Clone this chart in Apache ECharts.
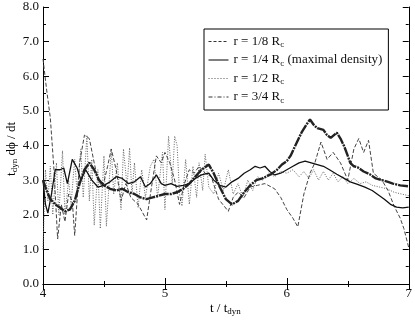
<!DOCTYPE html>
<html>
<head>
<meta charset="utf-8">
<script src="https://cdn.jsdelivr.net/npm/echarts@6/dist/echarts.min.js"></script>
<style>
  html, body { margin: 0; padding: 0; background: #fff; }
  #chart { width: 415px; height: 320px; }
</style>
</head>
<body>
<div id="chart"></div>
<script>
  // r = 1/8 Rc (dashed)
  const tDashed = [4.00, 4.03, 4.06, 4.09, 4.12, 4.15, 4.18, 4.21, 4.24, 4.26, 4.30, 4.34, 4.38, 4.42, 4.45, 4.49, 4.53, 4.56, 4.60, 4.64, 4.68, 4.72, 4.78, 4.85, 4.89, 4.93, 4.97, 5.00, 5.04, 5.08, 5.12, 5.16, 5.20, 5.24, 5.28, 5.33, 5.38, 5.44, 5.52, 5.56, 5.60, 5.65, 5.70, 5.76, 5.82, 5.90, 5.95, 6.00, 6.05, 6.09, 6.14, 6.19, 6.23, 6.28, 6.33, 6.38, 6.44, 6.50, 6.55, 6.59, 6.63, 6.67, 6.71, 6.78, 6.83, 6.88, 6.93, 6.96, 7.00]
  const vDashed = [6.5, 5.6, 4.8, 3.3, 1.3, 2.3, 1.8, 2.6, 2.4, 1.4, 3.5, 4.3, 4.2, 3.5, 3.0, 2.8, 3.4, 3.9, 3.3, 2.4, 2.9, 2.5, 2.3, 1.85, 2.8, 3.7, 3.5, 3.8, 3.5, 3.0, 2.3, 2.9, 3.3, 3.2, 3.4, 3.2, 3.1, 2.45, 2.1, 2.5, 2.65, 2.5, 2.8, 2.85, 2.9, 2.75, 2.5, 2.15, 1.9, 1.65, 2.6, 3.2, 3.5, 4.1, 3.6, 3.8, 3.5, 3.0, 3.9, 4.2, 3.8, 4.15, 3.2, 3.0, 2.7, 2.25, 1.9, 1.6, 1.05]

  // r = 1/4 Rc (solid, maximal density)
  const tSolid = [4.00, 4.02, 4.04, 4.07, 4.10, 4.14, 4.17, 4.20, 4.24, 4.28, 4.31, 4.35, 4.40, 4.45, 4.50, 4.55, 4.60, 4.65, 4.70, 4.75, 4.80, 4.84, 4.88, 4.93, 4.97, 5.00, 5.05, 5.10, 5.15, 5.20, 5.25, 5.30, 5.36, 5.40, 5.45, 5.50, 5.55, 5.60, 5.65, 5.70, 5.74, 5.78, 5.82, 5.86, 5.90, 5.95, 6.00, 6.05, 6.10, 6.15, 6.20, 6.25, 6.30, 6.35, 6.41, 6.47, 6.52, 6.58, 6.64, 6.70, 6.74, 6.80, 6.85, 6.90, 6.95, 7.00]
  const vSolid = [3.0, 2.3, 2.05, 2.6, 3.3, 3.3, 3.35, 2.9, 3.6, 3.35, 3.0, 3.3, 3.0, 2.8, 2.85, 2.95, 3.1, 3.05, 2.9, 2.95, 3.1, 2.8, 2.9, 3.15, 2.9, 2.85, 2.9, 2.82, 2.85, 2.9, 3.05, 3.15, 3.2, 3.0, 2.85, 2.8, 2.95, 3.05, 3.2, 3.3, 3.4, 3.35, 3.4, 3.25, 3.15, 3.2, 3.3, 3.4, 3.5, 3.55, 3.5, 3.45, 3.4, 3.3, 3.17, 3.05, 2.95, 2.88, 2.8, 2.7, 2.6, 2.45, 2.3, 2.22, 2.2, 2.22]

  // r = 1/2 Rc (dotted)
  const tDotted = [4.00, 4.02, 4.04, 4.06, 4.08, 4.11, 4.13, 4.16, 4.18, 4.21, 4.23, 4.26, 4.28, 4.31, 4.33, 4.36, 4.38, 4.40, 4.42, 4.45, 4.47, 4.50, 4.52, 4.56, 4.58, 4.61, 4.64, 4.66, 4.69, 4.71, 4.73, 4.75, 4.78, 4.81, 4.84, 4.88, 4.91, 4.94, 4.98, 5.00, 5.03, 5.06, 5.08, 5.10, 5.12, 5.14, 5.17, 5.20, 5.23, 5.26, 5.28, 5.31, 5.33, 5.36, 5.40, 5.44, 5.48, 5.52, 5.56, 5.60, 5.64, 5.68, 5.72, 5.76, 5.80, 5.85, 5.90, 5.95, 6.00, 6.05, 6.10, 6.14, 6.18, 6.22, 6.26, 6.30, 6.34, 6.38, 6.42, 6.46, 6.50, 6.55, 6.60, 6.65, 6.70, 6.76, 6.82, 6.88, 6.94, 7.00]
  const vDotted = [1.0, 3.3, 2.4, 3.4, 2.0, 3.5, 2.0, 3.85, 2.0, 3.0, 2.3, 3.6, 2.6, 3.9, 2.5, 4.3, 2.4, 3.6, 1.7, 3.3, 1.6, 3.7, 1.67, 3.9, 2.6, 3.5, 2.15, 3.9, 2.8, 3.93, 2.6, 3.5, 2.2, 3.3, 2.5, 3.4, 3.6, 2.5, 3.8, 2.15, 4.27, 2.9, 4.27, 4.0, 2.6, 2.25, 3.6, 2.3, 3.4, 2.5, 3.5, 2.7, 3.75, 2.8, 2.6, 3.2, 2.7, 3.3, 2.6, 2.9, 2.5, 3.0, 2.7, 3.1, 3.0, 3.2, 3.1, 3.25, 3.2, 3.3, 3.1, 3.25, 3.05, 3.3, 3.0, 3.25, 3.0, 3.2, 2.95, 3.1, 2.9, 3.05, 2.9, 2.95, 2.85, 2.8, 2.75, 2.65, 2.6, 2.55]

  // r = 3/4 Rc (dash-dot, drawn heavy)
  const tDashDot = [4.00, 4.03, 4.06, 4.10, 4.14, 4.18, 4.22, 4.26, 4.30, 4.34, 4.38, 4.42, 4.46, 4.50, 4.55, 4.60, 4.65, 4.70, 4.75, 4.80, 4.85, 4.90, 4.95, 5.00, 5.05, 5.10, 5.15, 5.20, 5.25, 5.30, 5.36, 5.40, 5.45, 5.50, 5.55, 5.60, 5.65, 5.70, 5.75, 5.80, 5.87, 5.92, 5.96, 6.00, 6.03, 6.07, 6.12, 6.16, 6.19, 6.22, 6.25, 6.30, 6.33, 6.36, 6.41, 6.44, 6.47, 6.50, 6.52, 6.55, 6.58, 6.63, 6.68, 6.73, 6.78, 6.83, 6.87, 6.93, 7.00]
  const vDashDot = [3.0, 2.7, 2.45, 2.3, 2.2, 2.1, 2.15, 2.4, 2.9, 3.3, 3.5, 3.3, 3.0, 2.85, 2.75, 2.7, 2.75, 2.65, 2.6, 2.5, 2.45, 2.5, 2.55, 2.6, 2.6, 2.65, 2.75, 2.9, 3.1, 3.3, 3.45, 3.2, 2.8, 2.45, 2.3, 2.4, 2.65, 2.85, 3.0, 3.05, 3.17, 3.3, 3.45, 3.55, 3.7, 4.0, 4.37, 4.6, 4.75, 4.6, 4.5, 4.45, 4.3, 4.22, 4.37, 4.2, 3.98, 3.7, 3.5, 3.4, 3.37, 3.25, 3.17, 3.05, 3.0, 2.95, 2.9, 2.85, 2.82]

  const yTicks = ['0.0', '1.0', '2.0', '3.0', '4.0', '5.0', '6.0', '7.0', '8.0']

  const serif = 'Liberation Serif, Times New Roman, serif'
  const pairs = (t, v) => t.map((x, i) => [x, v[i]])
  const rich = {
    a: { fontFamily: serif, fontSize: 13, color: '#111' },
    s: { fontFamily: serif, fontSize: 9, color: '#111', verticalAlign: 'bottom', padding: [7, 0, 0, 0] }
  }
  const names = ['r = 1/8 Rc', 'r = 1/4 Rc (maximal density)', 'r = 1/2 Rc', 'r = 3/4 Rc']
  const noMark = { color: 'rgba(0,0,0,0)', borderWidth: 0 }

  const chart = echarts.init(document.getElementById('chart'))

  const xBase = {
    type: 'value', min: 4, max: 7, interval: 1,
    axisLine: { lineStyle: { color: '#000', width: 1 } },
    axisTick: { inside: true, length: 6, lineStyle: { color: '#000' } },
    minorTick: { show: true, splitNumber: 2, length: 3, lineStyle: { color: '#000' } },
    splitLine: { show: false }
  }
  const yBase = {
    type: 'value', min: 0, max: 8, interval: 1,
    axisLine: { show: true, lineStyle: { color: '#000', width: 1 } },
    axisTick: { inside: true, length: 6, lineStyle: { color: '#000' } },
    minorTick: { show: true, splitNumber: 2, length: 3, lineStyle: { color: '#000' } },
    splitLine: { show: false }
  }

  chart.setOption({
    animation: false,
    backgroundColor: '#fff',
    grid: { left: 43, right: 3, top: 7, bottom: 36 },
    xAxis: [
      Object.assign({}, xBase, {
        position: 'bottom',
        axisLabel: { fontFamily: serif, fontSize: 13, color: '#111', margin: 3 }
      }),
      Object.assign({}, xBase, { position: 'top', axisLabel: { show: false } })
    ],
    yAxis: [
      Object.assign({}, yBase, {
        position: 'left',
        axisLabel: {
          fontFamily: serif, fontSize: 13, color: '#111', margin: 4,
          formatter: v => yTicks[Math.round(v)]
        }
      }),
      Object.assign({}, yBase, { position: 'right', axisLabel: { show: false } })
    ],
    legend: {
      orient: 'vertical',
      left: 204,
      top: 29,
      backgroundColor: '#fff',
      borderColor: '#000',
      borderWidth: 1,
      borderRadius: 0,
      padding: [6, 6, 5, 4],
      itemGap: 4,
      itemWidth: 20,
      itemHeight: 12,
      itemStyle: noMark,
      formatter: name => {
        const m = name.match(/^(r = \S+ R)c(.*)$/)
        return '{a|' + m[1] + '}{s|c}{a|' + m[2] + '}'
      },
      textStyle: { rich: rich },
      data: [
        { name: names[0], itemStyle: noMark, lineStyle: { width: 1, type: [3, 2], color: '#333' } },
        { name: names[1], itemStyle: noMark, lineStyle: { width: 1, type: 'solid', color: '#000' } },
        { name: names[2], itemStyle: noMark, lineStyle: { width: 1, type: [1, 2], color: '#555' } },
        { name: names[3], itemStyle: noMark, lineStyle: { width: 1, type: [4, 2, 1, 2], color: '#333' } }
      ]
    },
    graphic: [
      {
        type: 'text', left: 5, top: 122, rotation: Math.PI / 2,
        style: {
          text: '{a|t}{s|dyn}{a| dϕ / dt}',
          rich: rich
        }
      },
      {
        type: 'text', left: 210, top: 302,
        style: {
          text: '{a|t / t}{s|dyn}',
          rich: rich
        }
      }
    ],
    series: [
      {
        name: names[0], type: 'line', symbol: 'none', z: 3,
        itemStyle: { color: '#444' },
        lineStyle: { color: '#444', width: 1, type: [4, 2] },
        data: pairs(tDashed, vDashed)
      },
      {
        name: names[1], type: 'line', symbol: 'none', z: 4,
        itemStyle: { color: '#111' },
        lineStyle: { color: '#111', width: 1.3 },
        data: pairs(tSolid, vSolid)
      },
      {
        name: names[2], type: 'line', symbol: 'none', z: 2,
        itemStyle: { color: '#666' },
        lineStyle: { color: '#666', width: 1, type: [1, 1.5] },
        data: pairs(tDotted, vDotted)
      },
      {
        name: names[3], type: 'line', symbol: 'none', z: 5,
        itemStyle: { color: '#222' },
        lineStyle: { color: '#222', width: 2.4, type: [10, 1, 2, 1] },
        data: pairs(tDashDot, vDashDot)
      }
    ]
  })
</script>
</body>
</html>
